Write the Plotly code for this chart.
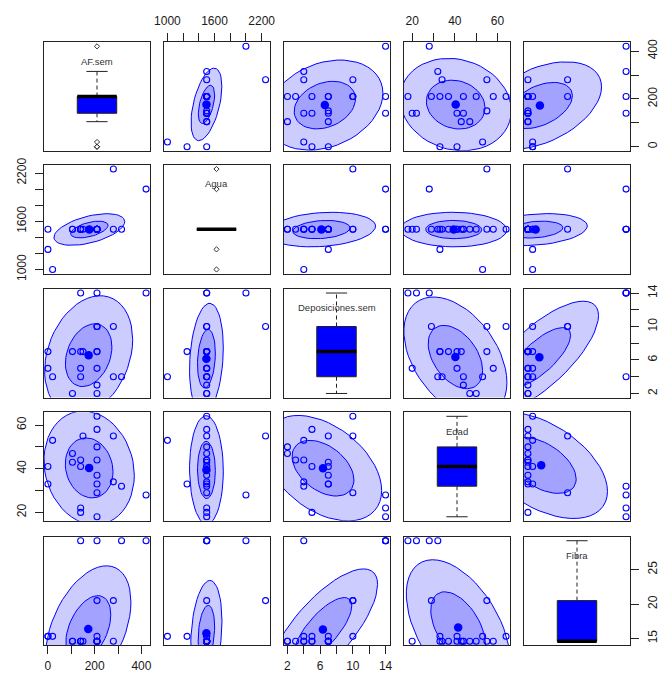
import numpy as np
import plotly.graph_objects as go

# ---------------- data ----------------
var_names = ["AF.sem", "Agua", "Deposiciones.sem", "Edad", "Fibra"]
af_sem = [210, 140, 140, 420, 210, 315, 0, 210, 280, 210, 0, 140, 105, 140, 210, 105, 210, 20, 280, 150, 210, 210]
agua = [1500, 1500, 1500, 2000, 1500, 1500, 1250, 1500, 1500, 1500, 1500, 1500, 1500, 1500, 1500, 1500, 1500,
        1000, 2250, 1500, 1500, 1500]
deposiciones = [14, 5, 14, 14, 10, 4, 7, 7, 4, 7, 5, 7, 7, 4, 3, 2, 2, 4, 10, 7, 5, 10]
edad = [18, 20, 22, 28, 29, 32, 33, 33, 34, 37, 41, 41, 43, 44, 44, 47, 50, 53, 55, 55, 58, 64]
fibra = [29.2, 14.6, 29.2, 29.2, 20.5, 29.2, 15.3, 14.6, 14.6, 14.6, 15.3, 14.6, 14.6, 14.6, 14.6, 14.6, 14.6,
         15.3, 20.5, 14.6, 14.6, 15.3]

tick_vals = [
    [0, 100, 200, 300, 400],
    [1000, 1200, 1400, 1600, 1800, 2000, 2200],
    [2, 4, 6, 8, 10, 12, 14],
    [20, 30, 40, 50, 60],
    [15, 20, 25],
]
tick_text = [
    ["0", "", "200", "", "400"],
    ["1000", "", "", "1600", "", "", "2200"],
    ["2", "", "6", "", "10", "", "14"],
    ["20", "", "40", "", "60"],
    ["15", "20", "25"],
]
ellipse_levels = [0.5, 0.9]

data = [np.array(v, dtype=float) for v in (af_sem, agua, deposiciones, edad, fibra)]
nvar = len(data)
n = len(data[0])

# ---------------- helpers ----------------
def cov_trob(x, nu=5, maxit=25, tol=0.01):
    nn, p = x.shape
    wt = np.ones(nn)
    loc = x.mean(axis=0)
    w = np.sqrt(wt)
    X = x - loc
    for _ in range(maxit):
        w0 = w
        X = x - loc
        A = np.sqrt(w / w.sum())[:, None] * X
        _, d, Vt = np.linalg.svd(A, full_matrices=False)
        wX = X @ Vt.T @ np.diag(1.0 / d)
        Q = (wX ** 2).sum(axis=1)
        w = wt * (nu + p) / (nu + Q)
        loc = (w[:, None] * x).sum(axis=0) / w.sum()
        if np.all(np.abs(w - w0) < tol):
            break
    sw = np.sqrt(w)[:, None] * X
    cov = sw.T @ sw / wt.sum()
    return loc, cov


def qf2(p, d2):
    # quantile of F(2, d2)
    return d2 / 2.0 * ((1 - p) ** (-2.0 / d2) - 1)


def fivenum(v):
    v = np.sort(v)
    m = len(v)
    n4 = np.floor((m + 3) / 2) / 2
    d = [1, n4, (m + 1) / 2, m + 1 - n4, m]
    return [0.5 * (v[int(np.floor(di)) - 1] + v[int(np.ceil(di)) - 1]) for di in d]


def ext_range(v):
    lo, hi = float(np.min(v)), float(np.max(v))
    r = hi - lo
    return [lo - 0.04 * r, hi + 0.04 * r]


# ---------------- layout geometry ----------------
W, H = 661, 673
col_left = [44, 163.5, 283.5, 404, 524]
row_top = [42.3, 165, 289, 412.3, 536.7]
pw, ph = 106, 108.5

fig = go.Figure()
layout = dict(
    width=W, height=H, margin=dict(l=0, r=0, t=0, b=0, autoexpand=False),
    paper_bgcolor="white", plot_bgcolor="white", showlegend=False,
    font=dict(family="Liberation Sans, Arial, sans-serif", size=12, color="#1a1a1a"),
)
annotations = []

BLUE = "#0000FF"
FILL = "rgba(0,0,255,0.2)"
theta = np.linspace(0, 2 * np.pi, 52)
unit = np.vstack([np.cos(theta), np.sin(theta)])
radii = [np.sqrt(2 * qf2(lv, n - 1)) for lv in ellipse_levels]

for i in range(nvar):
    for j in range(nvar):
        k = i * nvar + j + 1
        xa = "x" if k == 1 else f"x{k}"
        ya = "y" if k == 1 else f"y{k}"
        xkey = "xaxis" if k == 1 else f"xaxis{k}"
        ykey = "yaxis" if k == 1 else f"yaxis{k}"
        xd = [col_left[j] / W, (col_left[j] + pw) / W]
        yd = [1 - (row_top[i] + ph) / H, 1 - row_top[i] / H]

        common = dict(showgrid=False, zeroline=False, showline=True, mirror=True,
                      linecolor="#222", linewidth=1, ticks="", showticklabels=False,
                      fixedrange=True, automargin=False, tickfont=dict(size=12, color="#1a1a1a"))
        xcfg = dict(common, domain=xd, anchor=ya)
        ycfg = dict(common, domain=yd, anchor=xa)

        yv = data[i]
        ycfg["range"] = ext_range(yv)

        if i == j:
            xcfg["range"] = [0, 1]
            s = fivenum(yv)
            h1, med, h3 = s[1], s[2], s[3]
            iqr = h3 - h1
            inside = yv[(yv >= h1 - 1.5 * iqr) & (yv <= h3 + 1.5 * iqr)]
            wlo, whi = inside.min(), inside.max()
            outl = yv[(yv < h1 - 1.5 * iqr) | (yv > h3 + 1.5 * iqr)]
            bw, cw = 0.186, 0.1
            for a, b in ((h3, whi), (h1, wlo)):
                if b != a:
                    fig.add_trace(go.Scatter(x=[0.5, 0.5], y=[a, b], mode="lines", xaxis=xa, yaxis=ya,
                                             line=dict(color="#222", width=1, dash="4px,3px"),
                                             hoverinfo="skip"))
                fig.add_trace(go.Scatter(x=[0.5 - cw, 0.5 + cw], y=[b, b], mode="lines", xaxis=xa, yaxis=ya,
                                         line=dict(color="#222", width=1), hoverinfo="skip"))
            fig.add_trace(go.Scatter(x=[0.5 - bw, 0.5 + bw, 0.5 + bw, 0.5 - bw, 0.5 - bw],
                                     y=[h1, h1, h3, h3, h1], mode="lines", fill="toself",
                                     fillcolor=BLUE, line=dict(color="#222", width=1),
                                     xaxis=xa, yaxis=ya, hoverinfo="skip"))
            fig.add_trace(go.Scatter(x=[0.5 - bw, 0.5 + bw], y=[med, med], mode="lines",
                                     line=dict(color="black", width=3.5), xaxis=xa, yaxis=ya,
                                     hoverinfo="skip"))
            if len(outl):
                fig.add_trace(go.Scatter(x=[0.5] * len(outl), y=outl, mode="markers", xaxis=xa, yaxis=ya,
                                         marker=dict(symbol="diamond-open", size=4, color="#333",
                                                     line=dict(width=1)), hoverinfo="skip"))
            annotations.append(dict(x=(xd[0] + xd[1]) / 2, y=1 - (row_top[i] + 19) / H,
                                    xref="paper", yref="paper", text=var_names[i], showarrow=False,
                                    font=dict(size=9.5, color="#333"), xanchor="center", yanchor="middle"))
        else:
            xv = data[j]
            xcfg["range"] = ext_range(xv)
            pts = np.column_stack([xv, yv])
            center, cov = cov_trob(pts)
            L = np.linalg.cholesky(cov)
            for r in radii[::-1]:
                e = center[:, None] + r * (L @ unit)
                fig.add_trace(go.Scatter(x=e[0], y=e[1], mode="lines", fill="toself", fillcolor=FILL,
                                         line=dict(color=BLUE, width=1), xaxis=xa, yaxis=ya,
                                         hoverinfo="skip"))
            fig.add_trace(go.Scatter(x=xv, y=yv, mode="markers", xaxis=xa, yaxis=ya,
                                     marker=dict(symbol="circle-open", size=6, color=BLUE,
                                                 line=dict(width=1.1, color=BLUE)), hoverinfo="skip"))
            fig.add_trace(go.Scatter(x=[center[0]], y=[center[1]], mode="markers", xaxis=xa, yaxis=ya,
                                     marker=dict(symbol="circle", size=8.5, color=BLUE), hoverinfo="skip"))

        if i == 0 and j in (1, 3):
            xcfg.update(ticks="outside", ticklen=8, tickcolor="#222", side="top",
                        tickvals=tick_vals[j], ticktext=tick_text[j], showticklabels=True,
                        ticklabelstandoff=4)
        if i == nvar - 1 and j in (0, 2, 4):
            xcfg.update(ticks="outside", ticklen=8, tickcolor="#222", side="bottom",
                        tickvals=tick_vals[j], ticktext=tick_text[j], showticklabels=True,
                        ticklabelstandoff=1)
        if j == 0 and i in (1, 3):
            ycfg.update(ticks="outside", ticklen=8, tickcolor="#222", side="left",
                        tickvals=tick_vals[i], ticktext=tick_text[i], showticklabels=True,
                        tickangle=-90, ticklabelstandoff=4)
        if j == nvar - 1 and i in (0, 2, 4):
            ycfg.update(ticks="outside", ticklen=8, tickcolor="#222", side="right",
                        tickvals=tick_vals[i], ticktext=tick_text[i], showticklabels=True,
                        tickangle=-90, ticklabelstandoff=4)

        layout[xkey] = xcfg
        layout[ykey] = ycfg

layout["annotations"] = annotations
fig.update_layout(**layout)
fig.write_html("out.html", config={"displayModeBar": False, "staticPlot": True},
               post_script="document.body.style.margin='0';document.body.style.overflow='hidden';")
